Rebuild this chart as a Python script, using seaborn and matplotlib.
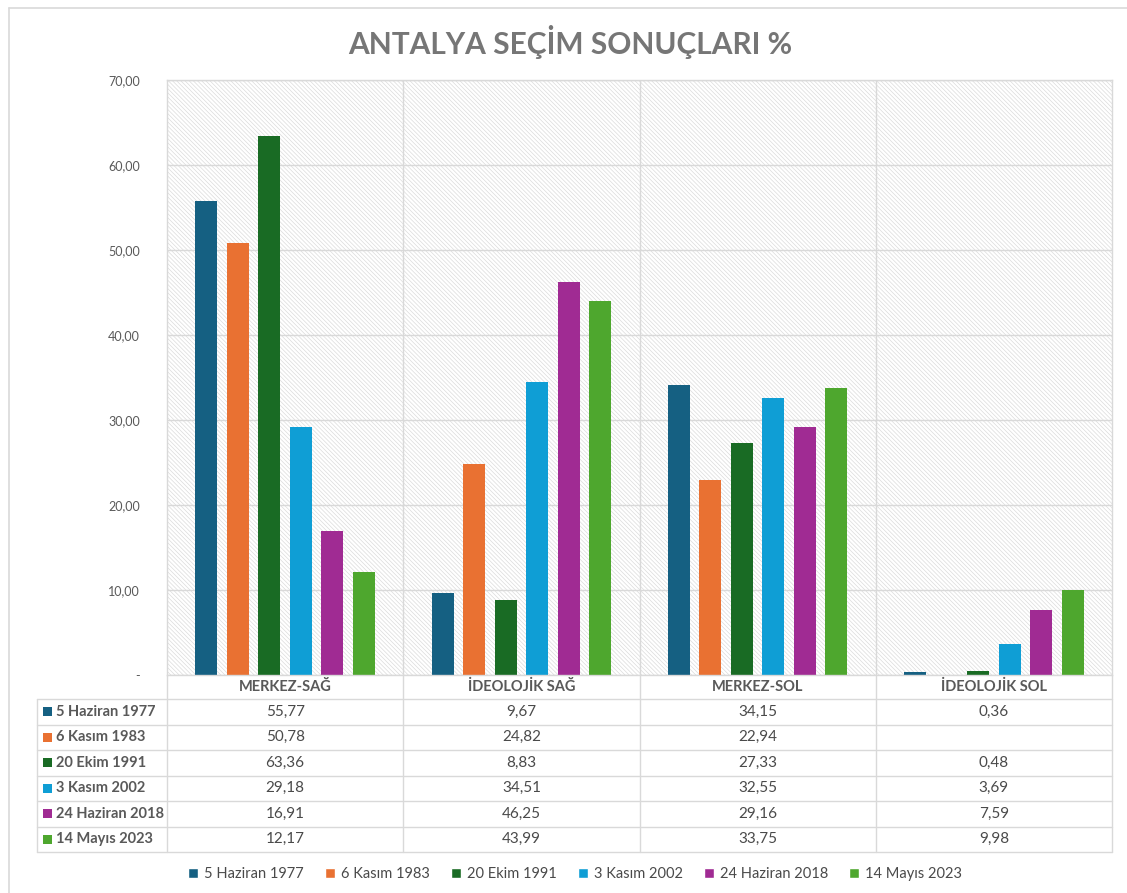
import numpy as np
import pandas as pd
import matplotlib.pyplot as plt
import seaborn as sns
from matplotlib.patches import Rectangle, Patch
from matplotlib.lines import Line2D
from matplotlib.ticker import FuncFormatter

# veriler
kategoriler = ['MERKEZ-SAĞ', 'İDEOLOJİK SAĞ', 'MERKEZ-SOL', 'İDEOLOJİK SOL']
secimler = ['5 Haziran 1977', '6 Kasım 1983', '20 Ekim 1991', '3 Kasım 2002',
            '24 Haziran 2018', '14 Mayıs 2023']
oran_1977 = [55.77, 9.67, 34.15, 0.36]
oran_1983 = [50.78, 24.82, 22.94, np.nan]
oran_1991 = [63.36, 8.83, 27.33, 0.48]
oran_2002 = [29.18, 34.51, 32.55, 3.69]
oran_2018 = [16.91, 46.25, 29.16, 7.59]
oran_2023 = [12.17, 43.99, 33.75, 9.98]
renkler = ['#156082', '#E97132', '#196B24', '#0F9ED5', '#A02B93', '#4EA72E']

oranlar = [oran_1977, oran_1983, oran_1991, oran_2002, oran_2018, oran_2023]
rows = []
for s, vals in zip(secimler, oranlar):
    for k, v in zip(kategoriler, vals):
        rows.append({'secim': s, 'kategori': k, 'oran': v})
df = pd.DataFrame(rows)

sns.set_style('white')
plt.rcParams['font.family'] = ['Lato', 'DejaVu Sans']
plt.rcParams['hatch.color'] = '#dcdcdc'
plt.rcParams['hatch.linewidth'] = 0.5

W, H = 1127, 893
fig = plt.figure(figsize=(W / 100, H / 100), dpi=100)
fx = lambda x: x / W
fy = lambda y: 1 - y / H
gri = '#D9D9D9'
yazi = '#595959'

# cerceve
fig.add_artist(Line2D([fx(9), 1], [fy(8), fy(8)], color=gri, lw=1.2))
fig.add_artist(Line2D([fx(9), fx(9)], [fy(8), 0], color=gri, lw=1.2))

fig.text(fx(570), fy(42), 'ANTALYA SEÇİM SONUÇLARI %', ha='center', va='center',
         fontsize=21.5, fontweight='bold', color='#767676')

L, R, T, B = 167, 1112, 80, 675
ax = fig.add_axes([fx(L), fy(B), (R - L) / W, (B - T) / H])
ax.add_patch(Rectangle((0, 0), 1, 1, transform=ax.transAxes, facecolor='white',
                       edgecolor='#dcdcdc', hatch='\\' * 8, linewidth=0, zorder=0))

sns.barplot(data=df, x='kategori', y='oran', hue='secim', order=kategoriler,
            hue_order=secimler, palette=renkler, width=0.8, gap=0.3,
            saturation=1, errorbar=None, legend=False, linewidth=0, ax=ax)

ax.set_axisbelow(True)
ax.set_ylim(0, 70)
ax.set_xlim(-0.5, 3.5)
ax.set_yticks(range(0, 80, 10))
ax.yaxis.set_major_formatter(FuncFormatter(
    lambda v, p: '-' if v == 0 else f'{v:.2f}'.replace('.', ',')))
ax.yaxis.grid(True, color=gri, lw=1)
for xb in [0.5, 1.5, 2.5]:
    ax.axvline(xb, color=gri, lw=1, zorder=0.6)
ax.set_xticks([])
ax.set_xlabel('')
ax.set_ylabel('')
ax.tick_params(axis='y', left=False, labelsize=9, labelcolor=yazi, pad=16)
for sp in ax.spines.values():
    sp.set_color(gri)
    sp.set_linewidth(1)

# veri tablosu
sutunlar = [L + i * (R - L) / 4 for i in range(5)]
ust, baslik_alt, satir_h = B, 699, 25.5
satirlar = [baslik_alt + i * satir_h for i in range(len(secimler) + 1)]
tab_sol = 37

for i, x in enumerate(sutunlar):
    fig.add_artist(Line2D([fx(x)] * 2, [fy(ust), fy(satirlar[-1])], color=gri, lw=1))
fig.add_artist(Line2D([fx(tab_sol)] * 2, [fy(baslik_alt), fy(satirlar[-1])], color=gri, lw=1))
for y in satirlar:
    fig.add_artist(Line2D([fx(tab_sol), fx(R)], [fy(y)] * 2, color=gri, lw=1))

for i, k in enumerate(kategoriler):
    xc = (sutunlar[i] + sutunlar[i + 1]) / 2
    fig.text(fx(xc), fy((ust + baslik_alt) / 2), k, ha='center', va='center',
             fontsize=10.5, fontweight='bold', color=yazi)

for j, (s, vals, c) in enumerate(zip(secimler, oranlar, renkler)):
    yc = (satirlar[j] + satirlar[j + 1]) / 2
    fig.add_artist(Rectangle((fx(43), fy(yc + 4.5)), 9 / W, 9 / H, facecolor=c,
                             edgecolor='none', transform=fig.transFigure))
    fig.text(fx(56), fy(yc), s, ha='left', va='center', fontsize=10.5,
             fontweight='bold', color=yazi)
    for i, v in enumerate(vals):
        xc = (sutunlar[i] + sutunlar[i + 1]) / 2
        t = '' if np.isnan(v) else f'{v:.2f}'.replace('.', ',')
        fig.text(fx(xc), fy(yc), t, ha='center', va='center', fontsize=11,
                 color='#4a4a4a')

handles = [Patch(facecolor=c, label=s) for s, c in zip(secimler, renkler)]
fig.legend(handles=handles, loc='center', bbox_to_anchor=(fx(575), fy(874)),
           ncol=6, frameon=False, prop={'size': 10.5},
           handlelength=0.7, handleheight=0.7, handletextpad=0.4,
           columnspacing=1.45, labelcolor='#4a4a4a')

fig.savefig('out.png', dpi=100)
